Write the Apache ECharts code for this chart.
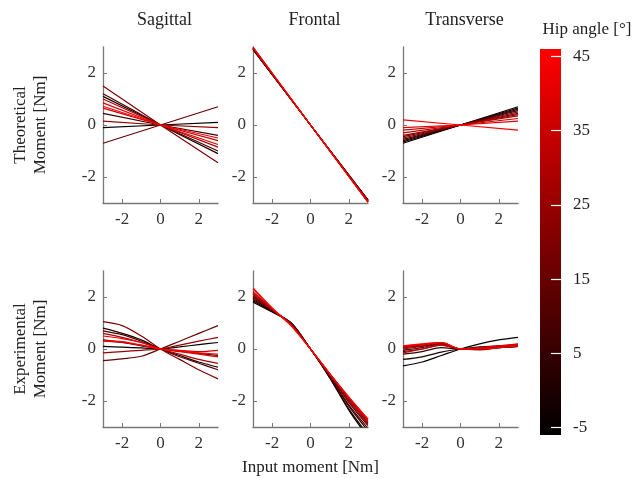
<!DOCTYPE html>
<html>
<head>
<meta charset="utf-8">
<script src="https://cdn.jsdelivr.net/npm/echarts@6/dist/echarts.min.js"></script>
<style>html,body{margin:0;padding:0;background:#fff}#c{width:635px;height:479px}</style>
</head>
<body>
<div id="c"></div>
<script>
// ---- data ----
const hipAngles = [-5, 0, 5, 10, 15, 20, 25, 30, 35, 40, 45];
const colorRange = [-6, 46];
const colorTicks = [-5, 5, 15, 25, 35, 45];
const axisTicks = [-2, 0, 2];
const columnTitles = ['Sagittal', 'Frontal', 'Transverse'];
const rowTitles = ['Theoretical\nMoment [Nm]', 'Experimental\nMoment [Nm]'];
const xLabel = 'Input moment [Nm]';
const colorbarTitle = 'Hip angle [°]';

const xTheo = [-3, 0, 3];
const theoSagittal = [
  [-0.1, 0, 0.1], [1.1, 0, -1.1], [0.45, 0, -0.4], [1.2, 0, -1.0], [-0.7, 0, 0.7], [1.5, 0, -1.45],
  [0.15, 0, -0.1], [1.0, 0, -0.85], [0.65, 0, -0.6], [0.85, 0, -0.75], [0.72, 0, -0.5]
];
const theoFrontal = [
  [2.9, 0, -2.88], [2.91, 0, -2.89], [2.92, 0, -2.9], [2.93, 0, -2.91], [2.94, 0, -2.92], [2.95, 0, -2.93],
  [2.96, 0, -2.94], [2.97, 0, -2.95], [2.98, 0, -2.96], [2.99, 0, -2.97], [3.0, 0, -2.98]
];
const theoTransverse = [
  [-0.7, 0, 0.7], [-0.65, 0, 0.65], [-0.6, 0, 0.6], [-0.55, 0, 0.55], [-0.5, 0, 0.5], [-0.45, 0, 0.45],
  [-0.4, 0, 0.4], [-0.3, 0, 0.35], [-0.2, 0, 0.25], [-0.1, 0, 0.15], [0.2, 0, -0.2]
];

const xExp = [-3, -2, -1, 0, 1, 2, 3];
const expSagittal = [
  [0.1, 0.07, 0.04, 0, 0.08, 0.17, 0.25],
  [0.8, 0.6, 0.35, 0, -0.25, -0.5, -0.7],
  [0.35, 0.25, 0.12, 0, -0.08, -0.17, -0.25],
  [0.7, 0.55, 0.3, 0, -0.3, -0.55, -0.8],
  [-0.45, -0.38, -0.28, 0, 0.3, 0.6, 0.9],
  [1.05, 0.9, 0.5, 0, -0.4, -0.8, -1.15],
  [-0.15, -0.1, -0.05, 0, 0.15, 0.3, 0.45],
  [0.6, 0.45, 0.25, 0, -0.2, -0.4, -0.55],
  [0.3, 0.25, 0.15, 0, -0.05, -0.1, -0.05],
  [0.5, 0.4, 0.25, 0, -0.1, -0.2, -0.3],
  [0.32, 0.28, 0.15, 0, -0.07, -0.15, -0.2]
];
const expFrontal = [
  [1.8, 1.42, 1.0, 0, -1.1, -2.35, -3.4],
  [1.85, 1.44, 0.99, 0, -1.1, -2.3, -3.3],
  [1.9, 1.46, 0.98, 0, -1.05, -2.2, -3.15],
  [1.95, 1.48, 0.97, 0, -1.05, -2.15, -3.05],
  [2.0, 1.5, 0.96, 0, -1.0, -2.05, -2.95],
  [2.05, 1.5, 0.95, 0, -1.0, -2.0, -2.9],
  [2.1, 1.52, 0.93, 0, -1.0, -1.95, -2.85],
  [2.15, 1.53, 0.92, 0, -0.95, -1.9, -2.8],
  [2.2, 1.54, 0.9, 0, -0.95, -1.9, -2.75],
  [2.3, 1.56, 0.9, 0, -0.95, -1.85, -2.7],
  [2.35, 1.58, 0.88, 0, -0.95, -1.85, -2.7]
];
const expTransverse = [
  [-0.65, -0.5, -0.25, 0, 0.2, 0.35, 0.45],
  [-0.4, -0.3, -0.12, 0, 0.08, 0.12, 0.15],
  [-0.2, -0.1, 0.05, 0, 0.0, 0.05, 0.1],
  [-0.1, 0.0, 0.15, 0, -0.02, 0.05, 0.1],
  [-0.05, 0.05, 0.2, 0, 0.0, 0.08, 0.12],
  [0.0, 0.1, 0.2, 0, -0.03, 0.05, 0.1],
  [0.05, 0.12, 0.22, 0, 0.02, 0.1, 0.15],
  [0.08, 0.15, 0.25, 0, 0.0, 0.08, 0.15],
  [-0.15, 0.0, 0.15, 0, 0.05, 0.12, 0.2],
  [0.1, 0.18, 0.25, 0, 0.03, 0.12, 0.18],
  [0.12, 0.2, 0.25, 0, 0.0, 0.05, 0.12]
];

// ---- build ----
const FONT = 'Liberation Serif';
function angleColor(a) {
  const t = Math.max(0, Math.min(1, (a - colorRange[0]) / (colorRange[1] - colorRange[0])));
  return 'rgb(' + Math.round(255 * t) + ',0,0)';
}
const panels = [
  [xTheo, theoSagittal, false], [xTheo, theoFrontal, false], [xTheo, theoTransverse, false],
  [xExp, expSagittal, true], [xExp, expFrontal, true], [xExp, expTransverse, true]
];
const colLeft = [103, 253, 403];
const rowTop = [47, 271];
const W = 115, H = 156;

const grids = [], xAxes = [], yAxes = [], series = [];
function axisStyle(margin) {
  return {
    axisLine: { onZero: false, lineStyle: { color: '#777', width: 1.3 } },
    axisTick: { inside: true, length: 4, lineStyle: { color: '#777' }, customValues: axisTicks },
    axisLabel: { fontFamily: FONT, fontSize: 17, color: '#333', customValues: axisTicks, margin: margin },
    splitLine: { show: false }
  };
}
panels.forEach((p, i) => {
  const r = Math.floor(i / 3), c = i % 3;
  grids.push({ left: colLeft[c], top: rowTop[r], width: W, height: H });
  xAxes.push(Object.assign({
    gridIndex: i, type: 'value', min: -3, max: 3,
    name: (i === 4 ? xLabel : ''), nameLocation: 'middle', nameGap: 32,
    nameTextStyle: { fontFamily: FONT, fontSize: 17, color: '#222' }
  }, axisStyle(8)));
  yAxes.push(Object.assign({
    gridIndex: i, type: 'value', min: -3, max: 3,
    name: (c === 0 ? rowTitles[r] : ''), nameLocation: 'middle', nameGap: 52, nameRotate: 90,
    nameTextStyle: { fontFamily: FONT, fontSize: 17, color: '#222', lineHeight: 20 }
  }, axisStyle(7)));
  const xs = p[0];
  p[1].forEach((ys, k) => {
    series.push({
      type: 'line', xAxisIndex: i, yAxisIndex: i, symbol: 'none', silent: true,
      smooth: p[2] ? 0.3 : false,
      lineStyle: { width: 1.2, color: angleColor(hipAngles[k]) },
      data: xs.map((x, j) => [x, ys[j]])
    });
  });
});

// colorbar axis
const cbIndex = grids.length;
grids.push({ left: 540, top: 49, width: 21, height: 386 });
xAxes.push({ gridIndex: cbIndex, type: 'value', show: false, min: 0, max: 1 });
yAxes.push({
  gridIndex: cbIndex, type: 'value', position: 'right', min: colorRange[0], max: colorRange[1], z: 10,
  axisLine: { show: false, onZero: false },
  axisTick: { inside: true, length: 10, lineStyle: { color: '#fff', width: 1.2 }, customValues: colorTicks },
  axisLabel: { fontFamily: FONT, fontSize: 17, color: '#222', margin: 12, customValues: colorTicks },
  splitLine: { show: false }
});

const titles = columnTitles.map((t, c) => ({
  text: t, left: colLeft[c] + W / 2 - 1, top: 6, textAlign: 'center',
  textStyle: { fontFamily: FONT, fontSize: 18, fontWeight: 'normal', color: '#222' }
}));
titles.push({
  text: colorbarTitle, left: 582, top: 16, textAlign: 'center',
  textStyle: { fontFamily: FONT, fontSize: 17, fontWeight: 'normal', color: '#222' }
});

const chart = echarts.init(document.getElementById('c'), null, { renderer: 'canvas' });
chart.setOption({
  animation: false,
  backgroundColor: '#fff',
  title: titles,
  grid: grids, xAxis: xAxes, yAxis: yAxes, series: series,
  graphic: [{
    type: 'rect', z: 0, silent: true,
    shape: { x: 540, y: 49, width: 21, height: 386 },
    style: { fill: new echarts.graphic.LinearGradient(0, 0, 0, 1, [
      { offset: 0, color: angleColor(colorRange[1]) },
      { offset: 1, color: angleColor(colorRange[0]) }
    ]) }
  }]
});
</script>
</body>
</html>
